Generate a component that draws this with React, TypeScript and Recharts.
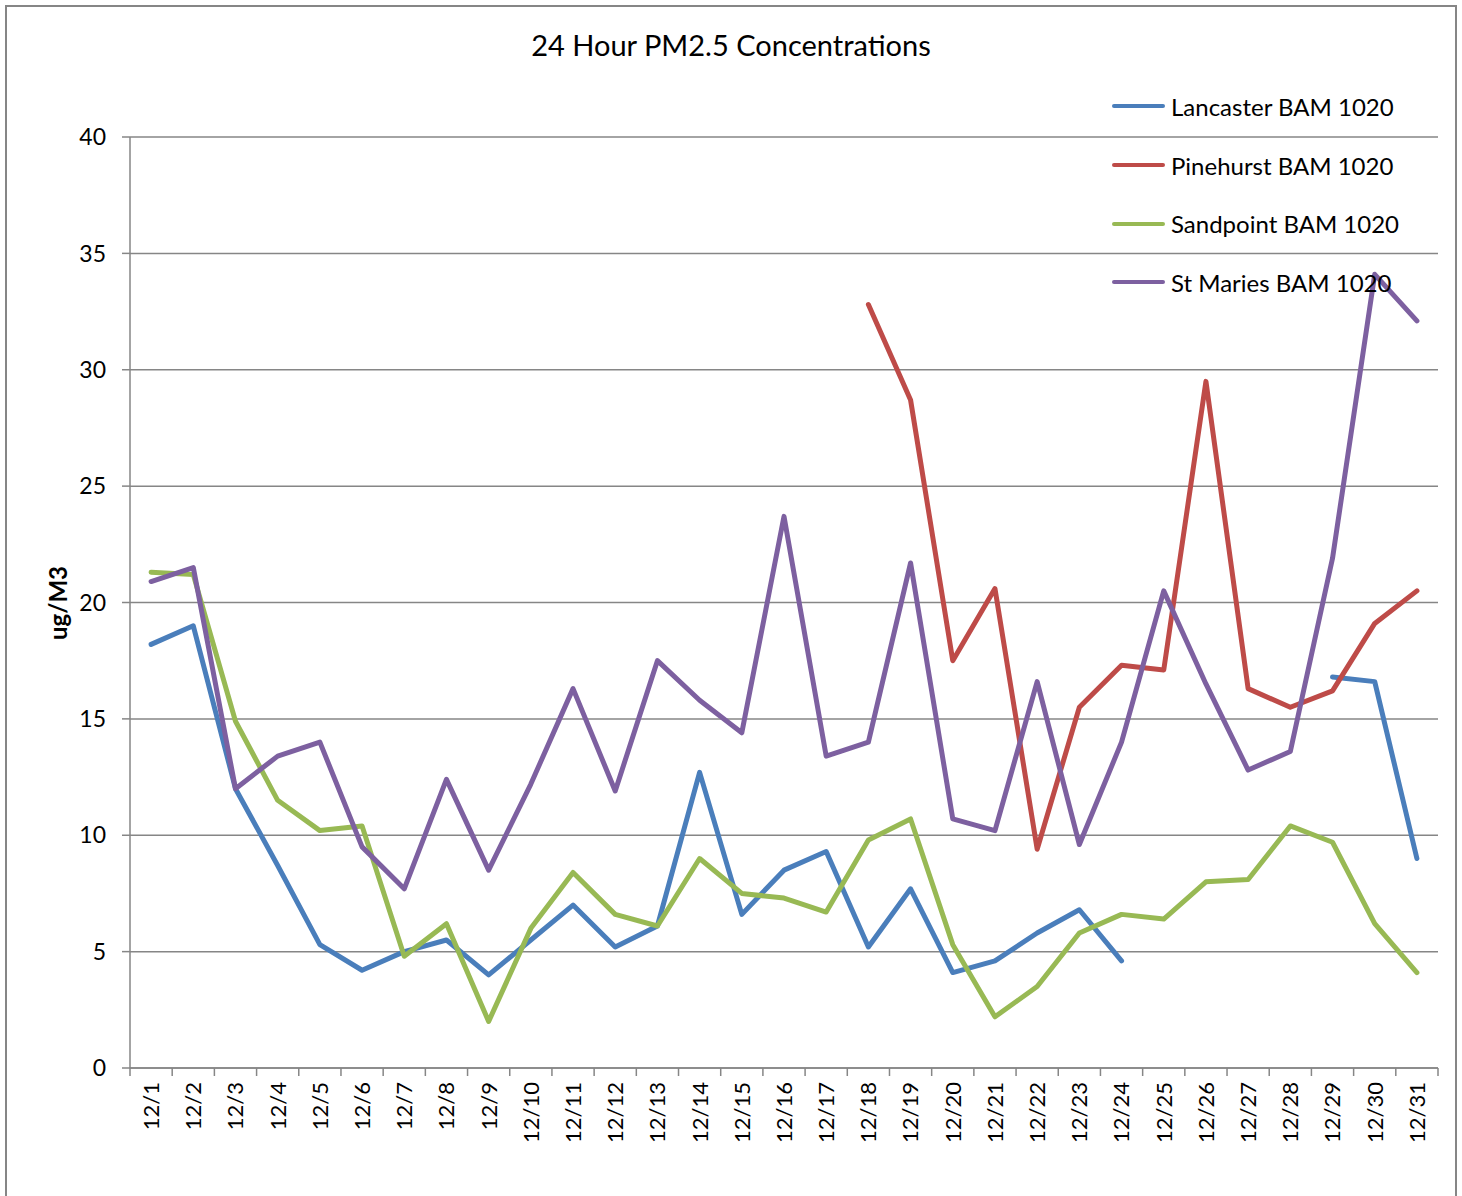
import React from 'react';
import { LineChart, Line, XAxis, YAxis, CartesianGrid } from 'recharts';

const dates = [
  '12/1', '12/2', '12/3', '12/4', '12/5', '12/6', '12/7', '12/8', '12/9', '12/10',
  '12/11', '12/12', '12/13', '12/14', '12/15', '12/16', '12/17', '12/18', '12/19', '12/20',
  '12/21', '12/22', '12/23', '12/24', '12/25', '12/26', '12/27', '12/28', '12/29', '12/30', '12/31',
];

const lancaster = [
  18.2, 19.0, 12.0, 8.7, 5.3, 4.2, 5.0, 5.5, 4.0, 5.5,
  7.0, 5.2, 6.1, 12.7, 6.6, 8.5, 9.3, 5.2, 7.7, 4.1,
  4.6, 5.8, 6.8, 4.6, null, null, null, null, 16.8, 16.6, 9.0,
];

const pinehurst = [
  null, null, null, null, null, null, null, null, null, null,
  null, null, null, null, null, null, null, 32.8, 28.7, 17.5,
  20.6, 9.4, 15.5, 17.3, 17.1, 29.5, 16.3, 15.5, 16.2, 19.1, 20.5,
];

const sandpoint = [
  21.3, 21.2, 14.9, 11.5, 10.2, 10.4, 4.8, 6.2, 2.0, 6.0,
  8.4, 6.6, 6.1, 9.0, 7.5, 7.3, 6.7, 9.8, 10.7, 5.3,
  2.2, 3.5, 5.8, 6.6, 6.4, 8.0, 8.1, 10.4, 9.7, 6.2, 4.1,
];

const stMaries = [
  20.9, 21.5, 12.0, 13.4, 14.0, 9.5, 7.7, 12.4, 8.5, 12.2,
  16.3, 11.9, 17.5, 15.8, 14.4, 23.7, 13.4, 14.0, 21.7, 10.7,
  10.2, 16.6, 9.6, 14.0, 20.5, 16.5, 12.8, 13.6, 21.9, 34.1, 32.1,
];

const yTicks = [0, 5, 10, 15, 20, 25, 30, 35, 40];

const series = [
  { key: 'lancaster', name: 'Lancaster BAM 1020', color: '#4A7EBB' },
  { key: 'pinehurst', name: 'Pinehurst BAM 1020', color: '#BE4B48' },
  { key: 'sandpoint', name: 'Sandpoint BAM 1020', color: '#98B954' },
  { key: 'stMaries', name: 'St Maries BAM 1020', color: '#7D60A0' },
];

const data = dates.map((d, i) => ({
  date: d,
  lancaster: lancaster[i],
  pinehurst: pinehurst[i],
  sandpoint: sandpoint[i],
  stMaries: stMaries[i],
}));

const W = 1462;
const H = 1196;
const M = { top: 137, right: 24, bottom: 0, left: 60 };
const X_AXIS_H = 128;
const Y_AXIS_W = 70;
const PLOT_W = W - M.left - Y_AXIS_W - M.right;
const BAND = PLOT_W / dates.length;
const FONT = 'Lato, "Open Sans", sans-serif';
const GRID = '#868686';

const DateTick = (props: any) => {
  const { x, y, payload, index } = props;
  const ty = y + 14;
  return (
    <g>
      <line x1={x - BAND / 2} x2={x - BAND / 2} y1={y} y2={y + 8} stroke={GRID} strokeWidth={1.5} />
      {index === dates.length - 1 && (
        <line x1={x + BAND / 2} x2={x + BAND / 2} y1={y} y2={y + 8} stroke={GRID} strokeWidth={1.5} />
      )}
      <text
        x={x}
        y={ty}
        dy="0.36em"
        transform={`rotate(-90 ${x} ${ty})`}
        textAnchor="end"
        fontSize={22}
        fontFamily={FONT}
        fill="#000"
      >
        {payload.value}
      </text>
    </g>
  );
};

// legend drawn as html on top of the chart, like the excel one
const ChartLegend = () => (
  <div style={{ position: 'absolute', left: 1112, top: 77, fontFamily: FONT, fontSize: 24, color: '#000' }}>
    {series.map((s) => (
      <div key={s.key} style={{ display: 'flex', alignItems: 'center', height: 58.7 }}>
        <div style={{ width: 53, height: 4, borderRadius: 2, background: s.color, marginRight: 6 }} />
        <span>{s.name}</span>
      </div>
    ))}
  </div>
);

export default function App() {
  return (
    <div style={{ position: 'absolute', left: 0, top: 0, width: W, height: H, overflow: 'hidden', background: '#fff' }}>
      <div
        style={{
          position: 'absolute', left: 5, top: 5, width: 1452, height: 1220,
          border: `2px solid ${GRID}`, boxSizing: 'border-box',
        }}
      />
      <div
        style={{
          position: 'absolute', left: 0, width: W, top: 27, textAlign: 'center',
          fontFamily: FONT, fontSize: 29, color: '#000',
        }}
      >
        24 Hour PM2.5 Concentrations
      </div>
      <LineChart width={W} height={H} data={data} margin={M} style={{ position: 'absolute', left: 0, top: 0 }}>
        <CartesianGrid vertical={false} stroke={GRID} strokeWidth={1.5} />
        <XAxis
          dataKey="date"
          scale="band"
          interval={0}
          tickLine={false}
          tickSize={0}
          tickMargin={0}
          axisLine={{ stroke: GRID, strokeWidth: 1.5 }}
          tick={<DateTick />}
          height={X_AXIS_H}
        />
        <YAxis
          width={Y_AXIS_W}
          domain={[0, 40]}
          ticks={yTicks}
          interval={0}
          tickSize={8}
          tickMargin={16}
          tickLine={{ stroke: GRID, strokeWidth: 1.5 }}
          axisLine={{ stroke: GRID, strokeWidth: 1.5 }}
          tick={{ fontSize: 23, fontFamily: FONT, fill: '#000' }}
          label={{
            value: 'ug/M3',
            content: () => (
              <text
                x={57}
                y={603}
                transform="rotate(-90 57 603)"
                textAnchor="middle"
                dominantBaseline="central"
                fontSize={24}
                fontWeight="bold"
                fontFamily={FONT}
                fill="#000"
              >
                ug/M3
              </text>
            ),
          }}
        />
        {series.map((s) => (
          <Line
            key={s.key}
            type="linear"
            dataKey={s.key}
            name={s.name}
            stroke={s.color}
            strokeWidth={5}
            strokeLinecap="round"
            strokeLinejoin="round"
            dot={false}
            activeDot={false}
            connectNulls={false}
            isAnimationActive={false}
          />
        ))}
      </LineChart>
      <ChartLegend />
    </div>
  );
}
